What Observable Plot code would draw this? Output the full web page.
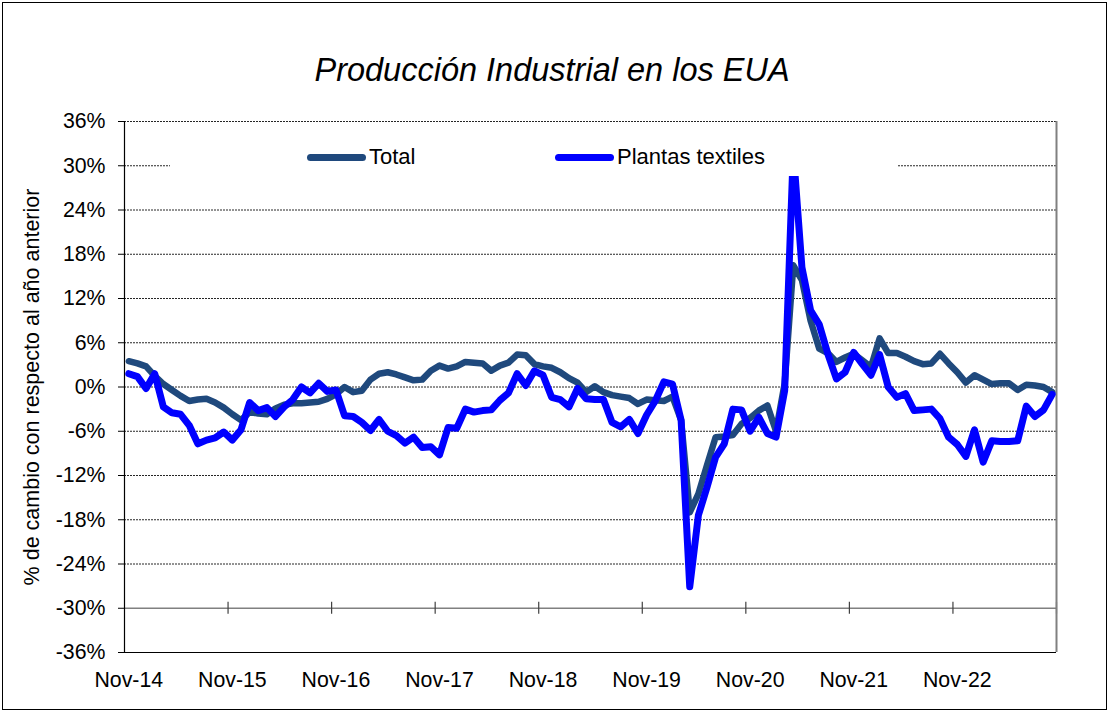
<!DOCTYPE html>
<html>
<head>
<meta charset="utf-8">
<script src="https://cdn.jsdelivr.net/npm/d3@7"></script>
<script src="https://cdn.jsdelivr.net/npm/@observablehq/plot@0.6"></script>
<style>
  html, body { margin: 0; padding: 0; background: #fff; }
  body { font-family: "Liberation Sans", Arial, sans-serif; }
  #wrap { position: relative; width: 1110px; height: 711px; overflow: hidden; }
  #wrap svg { position: absolute; left: 0; top: 0; }
  #legend { position: absolute; left: 170px; top: 140px; width: 728px; height: 36px; background: #fff; }
  .sw { position: absolute; height: 7px; border-radius: 3.5px; top: 14px; }
  .lt { position: absolute; top: 5px; height: 24px; line-height: 24px; font-size: 22px; color: #000; white-space: nowrap; }
  #border { position: absolute; left: 2px; top: 2px; width: 1105px; height: 708px; border: 1px solid #000; box-sizing: border-box; pointer-events: none; }
</style>
</head>
<body>
<div id="wrap"></div>
<script>
// ---- Data (monthly, Nov-14 .. Oct-23), % change vs. previous year ----
const seriesNames = ["Total", "Plantas textiles"];
const seriesColors = ["#1F497D", "#0000FF"];

const totalPct = [
  3.5, 3.2, 2.8, 1.5, 0.4, -0.4, -1.2, -1.9, -1.7, -1.6, -2.1, -2.8,
  -3.7, -4.5, -3.4, -3.6, -3.7, -2.9, -2.4, -2.2, -2.2, -2.1, -2.0, -1.6,
  -1.0, 0.0, -0.7, -0.5, 1.0, 1.8, 2.0, 1.7, 1.3, 0.9, 1.0, 2.2,
  2.9, 2.5, 2.8, 3.4, 3.3, 3.2, 2.2, 2.9, 3.3, 4.4, 4.3, 3.1,
  2.8, 2.6, 2.0, 1.2, 0.6, -0.7, 0.1, -0.7, -1.1, -1.3, -1.5, -2.3,
  -1.7, -1.8, -1.9, -1.3, -4.5, -17.0, -14.5, -10.6, -6.8, -6.7, -6.5, -5.0,
  -4.2, -3.2, -2.5, -6.0, 0.5, 16.5, 14.5, 9.0, 5.2, 4.6, 3.4, 4.0,
  4.5, 3.6, 2.7, 6.6, 4.6, 4.6, 4.1, 3.5, 3.1, 3.2, 4.5, 3.2,
  2.0, 0.6, 1.6, 1.0, 0.4, 0.5, 0.5, -0.4, 0.3, 0.2, 0.0, -0.7
];

const textilPct = [
  1.8, 1.4, -0.2, 1.8, -2.7, -3.5, -3.7, -5.2, -7.7, -7.2, -6.9, -6.1,
  -7.2, -5.8, -2.1, -3.2, -2.8, -4.0, -2.7, -1.7, 0.0, -0.8, 0.5, -0.6,
  -0.4, -3.9, -4.0, -4.8, -5.9, -4.4, -6.0, -6.6, -7.6, -6.8, -8.2, -8.1,
  -9.2, -5.5, -5.6, -3.0, -3.4, -3.2, -3.1, -1.8, -0.8, 1.8, 0.2, 2.2,
  1.6, -1.4, -1.7, -2.7, -0.2, -1.6, -1.7, -1.7, -4.8, -5.4, -4.4, -6.3,
  -3.8, -1.9, 0.7, 0.4, -4.5, -27.1, -17.4, -13.6, -9.5, -7.7, -3.0, -3.1,
  -6.0, -4.1, -6.3, -6.8, -0.5, 32.0, 16.2, 10.4, 8.5, 4.5, 1.1, 2.0,
  4.7, 3.1, 1.6, 4.4, 0.0, -1.4, -0.9, -3.2, -3.1, -3.0, -4.3, -6.8,
  -7.8, -9.4, -5.8, -10.2, -7.3, -7.4, -7.4, -7.3, -2.6, -4.0, -3.1, -1.0
];

const xTickLabels = ["Nov-14", "Nov-15", "Nov-16", "Nov-17", "Nov-18", "Nov-19", "Nov-20", "Nov-21", "Nov-22"];
const yTicks = [-36, -30, -24, -18, -12, -6, 0, 6, 12, 18, 24, 30, 36];
const titleText = "Producción Industrial en los EUA";
const yTitleText = "% de cambio con respecto al año anterior";

// ---- Derived tables ----
const n = totalPct.length;
const monthsPerYear = 12;
const rows = [
  ...totalPct.map((v, i) => ({i, v, s: seriesNames[0]})),
  ...textilPct.map((v, i) => ({i, v, s: seriesNames[1]}))
];
const labelIdx = xTickLabels.map((_, k) => k * monthsPerYear);
const boundaryIdx = d3.range(1, xTickLabels.length + 1).map(k => k * monthsPerYear - 0.5);
const gridVals = yTicks.filter(d => d > -30);
const axisLevel = -30;
const tickHalf = 0.8;

const fontFamily = '"Liberation Sans", Arial, sans-serif';

const chart = Plot.plot({
  width: 1110,
  height: 711,
  marginLeft: 124,
  marginRight: 54,
  marginTop: 121,
  marginBottom: 59,
  style: { fontFamily, background: "transparent", color: "#000", overflow: "visible" },
  x: { domain: [-0.5, n - 0.5], axis: null },
  y: { domain: [-36, 36], axis: null },
  marks: [
    Plot.ruleY(gridVals, { stroke: "#000", strokeWidth: 1, strokeDasharray: "2,1", strokeOpacity: 0.85 }),
    Plot.ruleY([axisLevel], { stroke: "#808080", strokeWidth: 1.6 }),
    Plot.ruleX(boundaryIdx, { y1: axisLevel - tickHalf, y2: axisLevel + tickHalf, stroke: "#404040", strokeWidth: 1.2 }),
    Plot.ruleY([-36], { stroke: "#000", strokeWidth: 1.2 }),
    Plot.ruleX([-0.5], { stroke: "#000", strokeWidth: 1.2 }),
    Plot.ruleX([n - 0.5], { stroke: "#808080", strokeWidth: 2 }),
    Plot.axisY({ ticks: yTicks, tickFormat: d => d + "%", tickSize: 6, tickPadding: 13, fontSize: 21.3, label: null, stroke: "#000" }),
    Plot.axisX({ ticks: labelIdx, tickFormat: d => xTickLabels[d / monthsPerYear], tickSize: 0, tickPadding: 19, fontSize: 21.3, label: null }),
    Plot.line(rows.filter(r => r.s === seriesNames[0]), { x: "i", y: "v", stroke: seriesColors[0], strokeWidth: 6.5, strokeLinejoin: "round", strokeLinecap: "round" }),
    Plot.line(rows.filter(r => r.s === seriesNames[1]), { x: "i", y: "v", stroke: seriesColors[1], strokeWidth: 7, strokeLinejoin: "round", strokeLinecap: "round" }),
    Plot.text([titleText], { text: d => d, frameAnchor: "top", textAnchor: "middle", lineAnchor: "middle", dx: -38.5, dy: -51, fontSize: 32.5, fontStyle: "italic", fill: "#000" }),
    Plot.text([yTitleText], { text: d => d, frameAnchor: "left", textAnchor: "middle", lineAnchor: "middle", dx: -92, rotate: -90, fontSize: 21.5, fill: "#000" })
  ]
});

const wrap = document.getElementById("wrap");
wrap.appendChild(chart);

// Legend (inside plot area, white box)
const legend = document.createElement("div");
legend.id = "legend";
const legendItems = [
  { name: seriesNames[0], color: seriesColors[0], sw: 137, tx: 199 },
  { name: seriesNames[1], color: seriesColors[1], sw: 385, tx: 447 }
];
for (const it of legendItems) {
  const sw = document.createElement("div");
  sw.className = "sw";
  sw.style.left = it.sw + "px";
  sw.style.width = "59px";
  sw.style.background = it.color;
  legend.appendChild(sw);
  const t = document.createElement("div");
  t.className = "lt";
  t.style.left = it.tx + "px";
  t.textContent = it.name;
  legend.appendChild(t);
}
wrap.appendChild(legend);

const border = document.createElement("div");
border.id = "border";
wrap.appendChild(border);
</script>
</body>
</html>
